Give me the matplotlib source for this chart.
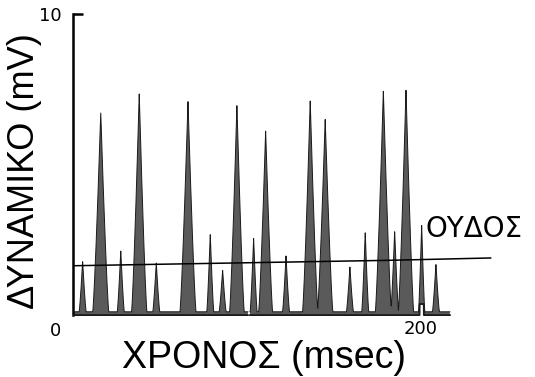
import numpy as np
import matplotlib.pyplot as plt

##### Data #####
# spike peaks: time (msec), height (mV), half width of the base (msec)
spike_times = [5.7, 16.1, 27.6, 38.2, 48.0, 66.2, 79.0, 86.1, 94.3, 103.9, 110.8,
               122.5, 136.4, 145.0, 159.2, 168.0, 178.4, 184.9, 191.4, 200.4, 208.6]
spike_heights = [1.69, 6.67, 2.04, 7.30, 1.64, 7.04, 2.60, 1.39, 6.92, 2.45, 6.05,
                 1.87, 7.06, 6.44, 1.50, 2.65, 7.39, 2.69, 7.43, 2.90, 1.59]
spike_widths = [2.0, 4.6, 2.0, 4.4, 2.0, 4.6, 2.0, 2.0, 4.2, 2.0, 4.0,
                2.0, 4.4, 4.4, 2.0, 2.0, 4.6, 2.2, 4.4, 1.8, 2.0]

# threshold line (ΟΥΔΟΣ), slightly tilted as drawn
threshold_t = [0, 60, 180, 240]
threshold_v = [1.58, 1.64, 1.76, 1.84]

trace_end = 216.6          # msec, where the record stops
baseline_gap = (100.6, 101.8)
baseline_notch = (199.2, 201.6)

##### Build the trace #####
t = np.linspace(0, trace_end, 8000)
v = np.full_like(t, 0.04)
for t0, h, w in zip(spike_times, spike_heights, spike_widths):
    v += h * np.clip(1 - np.abs(t - t0) / w, 0, 1) ** 1.25

lower = np.full_like(t, -0.07)
notch = (t > baseline_notch[0]) & (t < baseline_notch[1])
lower[notch] = 0.3
keep = ~((t > baseline_gap[0]) & (t < baseline_gap[1]))

##### Plot #####
fig = plt.figure(figsize=(5.35, 3.77), dpi=100)
ax = fig.add_axes([0.1359, 0.1512, 0.7987, 0.8276])
ax.set_xlim(0, 245.4)
ax.set_ylim(-0.234, 10.2)

ax.fill_between(t, lower, v, where=keep, color="#5a5a5a", lw=0, zorder=2)
ax.plot(np.where(keep, t, np.nan), v, color="#1a1a1a", lw=0.7, zorder=3)
ax.plot(np.where(keep, t, np.nan), lower, color="#1a1a1a", lw=1.3, zorder=3)

ax.plot(threshold_t, threshold_v, color="black", lw=1.1, zorder=4)
ax.text(202.5, 2.55, "ΟΥΔΟΣ", fontsize=20, family="DejaVu Sans", ha="left", va="baseline")

# axes: only the left line with a single tick at 10
for s in ["top", "right", "bottom"]:
    ax.spines[s].set_visible(False)
ax.spines["left"].set_bounds(-0.07, 10)
ax.spines["left"].set_linewidth(1.8)
ax.set_yticks([10])
ax.set_yticklabels(["10"], family="DejaVu Sans", fontsize=13)
ax.tick_params(axis="y", direction="in", length=7, width=1.8, pad=8)
ax.set_xticks([])

ax.text(-9.6, -0.6, "0", fontsize=13, family="DejaVu Sans", ha="center", va="center")
ax.text(200, -0.52, "200", fontsize=13, family="DejaVu Sans", ha="center", va="center")

fig.text(264 / 535, 9 / 377, "ΧΡΟΝΟΣ (msec)", fontsize=27,
         family="Liberation Sans", ha="center", va="baseline")
fig.text(25 / 535, 1 - 171 / 377, "ΔΥΝΑΜΙΚΟ (mV)", fontsize=26, rotation=90,
         family="Liberation Sans", ha="center", va="center")

fig.savefig("out.png", dpi=100)
